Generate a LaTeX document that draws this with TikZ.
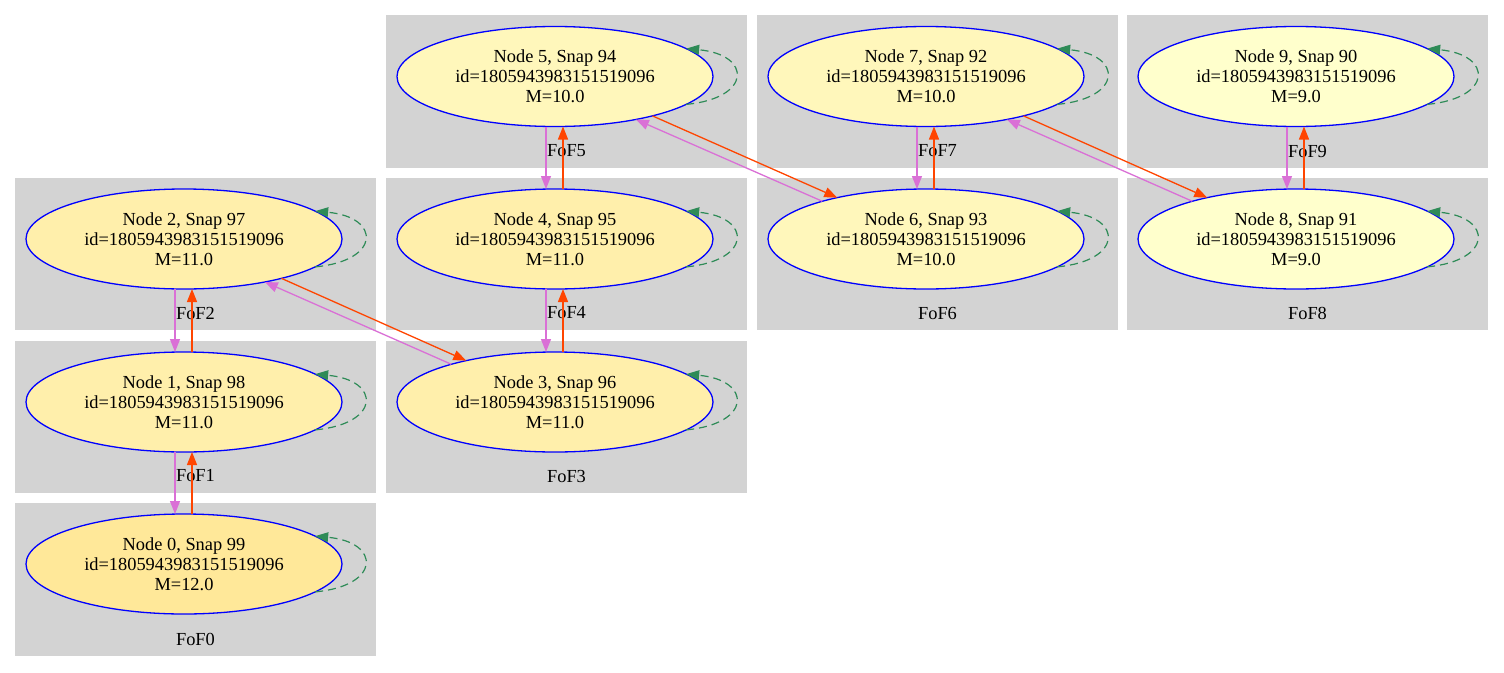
\documentclass[tikz,border=0pt]{standalone}
\usepackage{fontspec}
\setmainfont{Liberation Serif}
\usetikzlibrary{arrows.meta,shapes.geometric}
\definecolor{clgray}{HTML}{D3D3D3}
\definecolor{orangered}{HTML}{FF4500}
\definecolor{orchidc}{HTML}{DA70D6}
\definecolor{seagreenc}{HTML}{2E8B57}
\definecolor{mtwelve}{HTML}{FFE899}
\definecolor{meleven}{HTML}{FFEFAB}
\definecolor{mten}{HTML}{FFF7BB}
\definecolor{mnine}{HTML}{FFFFCC}
\tikzset{
  halonode/.style={ellipse, draw=blue, line width=1.3pt, minimum width=316pt, minimum height=100pt,
    inner sep=0pt, outer sep=0pt, align=center, font=\fontsize{18.4}{20}\selectfont},
  cluster/.style={fill=clgray},
  clabel/.style={inner sep=0pt, font=\fontsize{18.4}{20}\selectfont},
  progedge/.style={draw=orangered, line width=1.3pt, -{Triangle[length=13pt,width=10pt]}},
  descedge/.style={draw=orchidc, line width=1.3pt, -{Triangle[length=13pt,width=10pt]}},
  selfloop/.style={draw=seagreenc, line width=1.2pt, dash pattern=on 8pt off 5pt, -{Triangle[length=13pt,width=10pt]}}
}
\begin{document}
\begin{tikzpicture}[x=1pt,y=-1pt]
\useasboundingbox[fill=white] (0,0) rectangle (1504,672);
% clusters
\fill[cluster] (15,503) rectangle (376,656);
\fill[cluster] (15,341) rectangle (376,493);
\fill[cluster] (15,178) rectangle (376,330);
\fill[cluster] (386,341) rectangle (747,493);
\fill[cluster] (386,178) rectangle (747,330);
\fill[cluster] (386,15) rectangle (747,168);
\fill[cluster] (757,178) rectangle (1118,330);
\fill[cluster] (757,15) rectangle (1118,168);
\fill[cluster] (1127,178) rectangle (1488,330);
\fill[cluster] (1127,15) rectangle (1488,168);
% cluster labels
\node[clabel] (l0) at (195.5,639) {FoF0};
\node[clabel] (l1) at (195.5,476) {FoF1};
\node[clabel] (l2) at (195.5,313) {FoF2};
\node[clabel] (l3) at (566.5,476) {FoF3};
\node[clabel] (l4) at (566.5,313) {FoF4};
\node[clabel] (l5) at (566.5,151) {FoF5};
\node[clabel] (l6) at (937.5,313) {FoF6};
\node[clabel] (l7) at (937.5,151) {FoF7};
\node[clabel] (l8) at (1307.5,313) {FoF8};
\node[clabel] (l9) at (1307.5,151) {FoF9};
% nodes
\node[halonode, fill=mtwelve] (n0) at (184,564) {Node 0, Snap 99\\id=1805943983151519096\\M=12.0};
\node[halonode, fill=meleven] (n1) at (184,402) {Node 1, Snap 98\\id=1805943983151519096\\M=11.0};
\node[halonode, fill=meleven] (n2) at (184,239) {Node 2, Snap 97\\id=1805943983151519096\\M=11.0};
\node[halonode, fill=meleven] (n3) at (555,402) {Node 3, Snap 96\\id=1805943983151519096\\M=11.0};
\node[halonode, fill=meleven] (n4) at (555,239) {Node 4, Snap 95\\id=1805943983151519096\\M=11.0};
\node[halonode, fill=mten] (n5) at (555,76.5) {Node 5, Snap 94\\id=1805943983151519096\\M=10.0};
\node[halonode, fill=mten] (n6) at (926,239) {Node 6, Snap 93\\id=1805943983151519096\\M=10.0};
\node[halonode, fill=mten] (n7) at (926,76.5) {Node 7, Snap 92\\id=1805943983151519096\\M=10.0};
\node[halonode, fill=mnine] (n8) at (1296,239) {Node 8, Snap 91\\id=1805943983151519096\\M=9.0};
\node[halonode, fill=mnine] (n9) at (1296,76.5) {Node 9, Snap 90\\id=1805943983151519096\\M=9.0};
% self loops
\foreach \n in {n0,n1,n2,n3,n4,n5,n6,n7,n8,n9}
  \draw[selfloop] (\n.-12.8) .. controls +(66,-6) and +(66,6) .. (\n.12.8);
% vertical pairs (upper, lower)
\foreach \u/\l in {n1/n0,n2/n1,n4/n3,n5/n4,n7/n6,n9/n8} {
  \draw[descedge] ([xshift=-9pt]\u.south) -- ([xshift=-9pt]\l.north);
  \draw[progedge] ([xshift=8pt]\l.north) -- ([xshift=8pt]\u.south);
}
% diagonal pairs
\foreach \a/\b in {n2/n3,n5/n6,n7/n8} {
  \draw[progedge] (\a.-22.6) -- (\b.155);
  \draw[descedge] (\b.160) -- (\a.-28.5);
}
\end{tikzpicture}
\end{document}
